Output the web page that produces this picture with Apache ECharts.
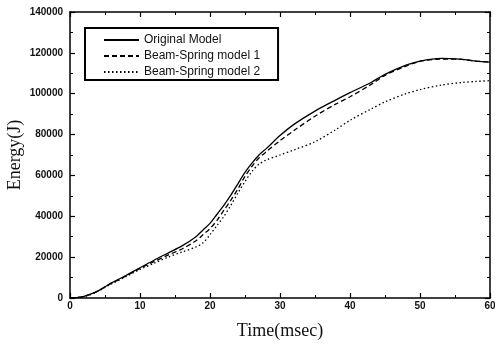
<!DOCTYPE html>
<html><head><meta charset="utf-8">
<script src="https://cdn.jsdelivr.net/npm/echarts@6/dist/echarts.min.js"></script>
<style>html,body{margin:0;padding:0;background:#fff}#c{width:495px;height:344px}</style>
</head><body><div id="c"></div>
<script>
const seriesNames = ['Original Model', 'Beam-Spring model 1', 'Beam-Spring model 2'];
const time = [0,1,2,3,4,5,6,8,10,12,14,16,18,19,20,21,22,23,24,25,26,27,28,30,32,35,38,40,43,45,48,50,53,56,58,60];
const original = [0,200,800,2000,3500,5500,7500,11000,14800,18500,22000,25500,30000,33300,36500,41000,45500,50500,56000,61500,66000,70000,73000,79500,85000,91500,97000,100500,105500,109500,114000,116000,117300,116800,116000,115500];
const model1 = [0,200,800,1900,3400,5400,7300,10800,14500,17800,21000,24000,28000,31000,34000,38000,43000,48000,53500,59500,64500,68500,71500,77000,82000,89000,95000,98500,104500,109000,113500,115800,117000,116800,116000,115500];
const model2 = [0,200,700,1800,3300,5200,7000,10500,14000,17000,20000,22500,25000,27000,31000,35500,40000,45500,51500,57000,62000,65500,67500,70000,72500,76500,82500,87000,92500,96000,100000,102000,104200,105500,106000,106400];

const pair = (ys) => time.map((t, i) => [t, ys[i]]);
const chart = echarts.init(document.getElementById('c'), null, {renderer: 'canvas'});
const axisCommon = (extra) => Object.assign({
  type: 'value',
  axisLine: {show: true, onZero: false, lineStyle: {color: '#000', width: 1.5}},
  axisTick: {show: true, inside: true, length: 5, lineStyle: {color: '#000', width: 1.2}},
  minorTick: {show: true, splitNumber: 2, length: 3, lineStyle: {color: '#000', width: 1}},
  splitLine: {show: false},
}, extra);
const labelStyle = {color: '#111', fontFamily: 'Liberation Sans, Arial, sans-serif', fontSize: 10, fontWeight: 'bold', formatter: (v) => String(v)};
const nameStyle = {color: '#111', fontFamily: 'Liberation Serif, Times New Roman, serif', fontSize: 18};
const lineSeries = (name, ys, type) => ({
  name, type: 'line', data: pair(ys), symbol: 'none', smooth: 0.3,
  lineStyle: {color: '#000', width: 1.3, type},
  itemStyle: {color: '#000'}
});
chart.setOption({
  animation: false,
  backgroundColor: '#fff',
  grid: {left: 70, right: 5, top: 12, bottom: 46, containLabel: false, outerBoundsMode: 'none'},
  legend: {
    orient: 'vertical', left: 85, top: 28,
    data: seriesNames,
    itemWidth: 35, itemHeight: 10, itemGap: 4,
    padding: [6, 18, 2, 18],
    borderColor: '#000', borderWidth: 2,
    backgroundColor: '#fff',
    itemStyle: {opacity: 0},
    textStyle: {color: '#111', fontFamily: 'Liberation Sans, Arial, sans-serif', fontSize: 12}
  },
  xAxis: [
    axisCommon({min: 0, max: 60, interval: 10, position: 'bottom',
      name: 'Time(msec)', nameLocation: 'middle', nameGap: 24, nameMoveOverlap: false, nameTextStyle: nameStyle,
      axisLabel: Object.assign({margin: 3}, labelStyle)}),
    axisCommon({min: 0, max: 60, interval: 10, position: 'top', axisLabel: {show: false}})
  ],
  yAxis: [
    axisCommon({min: 0, max: 140000, interval: 20000, position: 'left',
      name: 'Energy(J)', nameLocation: 'middle', nameGap: 46, nameMoveOverlap: false, nameTextStyle: nameStyle,
      axisLabel: Object.assign({margin: 7}, labelStyle)}),
    axisCommon({min: 0, max: 140000, interval: 20000, position: 'right', axisLabel: {show: false}})
  ],
  series: [
    lineSeries(seriesNames[0], original, 'solid'),
    lineSeries(seriesNames[1], model1, [5, 3]),
    lineSeries(seriesNames[2], model2, [1.5, 2.5])
  ]
});
</script></body></html>
